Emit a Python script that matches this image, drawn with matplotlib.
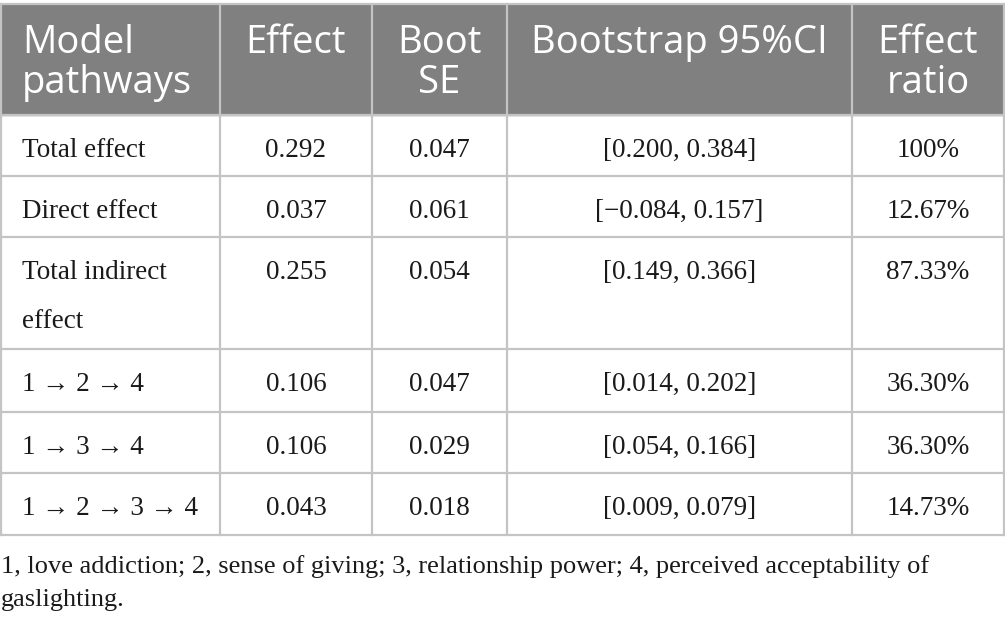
import matplotlib.pyplot as plt
from matplotlib.patches import Rectangle

headers = [["Model", "pathways"], ["Effect"], ["Boot", "SE"], ["Bootstrap 95%CI"], ["Effect", "ratio"]]
pathways = [["Total effect"], ["Direct effect"], ["Total indirect", "effect"],
            ["1 \u2192 2 \u2192 4"], ["1 \u2192 3 \u2192 4"], ["1 \u2192 2 \u2192 3 \u2192 4"]]
effect = ["0.292", "0.037", "0.255", "0.106", "0.106", "0.043"]
boot_se = ["0.047", "0.061", "0.054", "0.047", "0.029", "0.018"]
ci = ["[0.200, 0.384]", "[\u22120.084, 0.157]", "[0.149, 0.366]",
      "[0.014, 0.202]", "[0.054, 0.166]", "[0.009, 0.079]"]
ratio = ["100%", "12.67%", "87.33%", "36.30%", "36.30%", "14.73%"]
footnote = ["1, love addiction; 2, sense of giving; 3, relationship power; 4, perceived acceptability of",
            "gaslighting."]

# layout in pixels
col_edges = [1, 220, 372, 507, 852, 1004]
row_edges = [115, 176, 237, 349, 412, 473, 535]
head_top = 4
line_col = "#c4c4c4"
head_bg = "#808080"
text_col = "#1a1a1a"
serif = ["Liberation Serif", "DejaVu Serif"]

fig = plt.figure(figsize=(10.05, 6.25), dpi=100)
ax = fig.add_axes([0, 0, 1, 1])
ax.set_xlim(0, 1005)
ax.set_ylim(625, 0)
ax.axis("off")

ax.add_patch(Rectangle((col_edges[0], head_top), col_edges[-1] - col_edges[0],
                       row_edges[0] - head_top, color=head_bg, zorder=1))

# grid lines
for y in [head_top] + row_edges:
    ax.plot([col_edges[0], col_edges[-1]], [y, y], color=line_col, lw=1.6, zorder=2)
for x in col_edges:
    ax.plot([x, x], [head_top, row_edges[-1]], color=line_col, lw=1.6, zorder=2)

# header
for i, lines in enumerate(headers):
    for j, t in enumerate(lines):
        y = 53 + j * 40
        if i == 0:
            ax.text(22, y, t, ha="left", va="baseline", color="white",
                    fontsize=27.5, family="Open Sans", zorder=3)
        else:
            xc = (col_edges[i] + col_edges[i + 1]) / 2
            ax.text(xc, y, t, ha="center", va="baseline", color="white",
                    fontsize=27.5, family="Open Sans", zorder=3)

# body
cols = [effect, boot_se, ci, ratio]
for r in range(len(pathways)):
    y0 = row_edges[r] + 42
    for j, t in enumerate(pathways[r]):
        ax.text(22, y0 + j * 49, t, ha="left", va="baseline", color=text_col,
                fontsize=19.5, family=serif, zorder=3)
    for c, vals in enumerate(cols):
        xc = (col_edges[c + 1] + col_edges[c + 2]) / 2
        ax.text(xc, y0, vals[r], ha="center", va="baseline", color=text_col,
                fontsize=19.5, family=serif, zorder=3)

for j, t in enumerate(footnote):
    ax.text(1, 573 + j * 33, t, ha="left", va="baseline", color=text_col,
            fontsize=19, family=serif)

fig.savefig("out.png", dpi=100)
